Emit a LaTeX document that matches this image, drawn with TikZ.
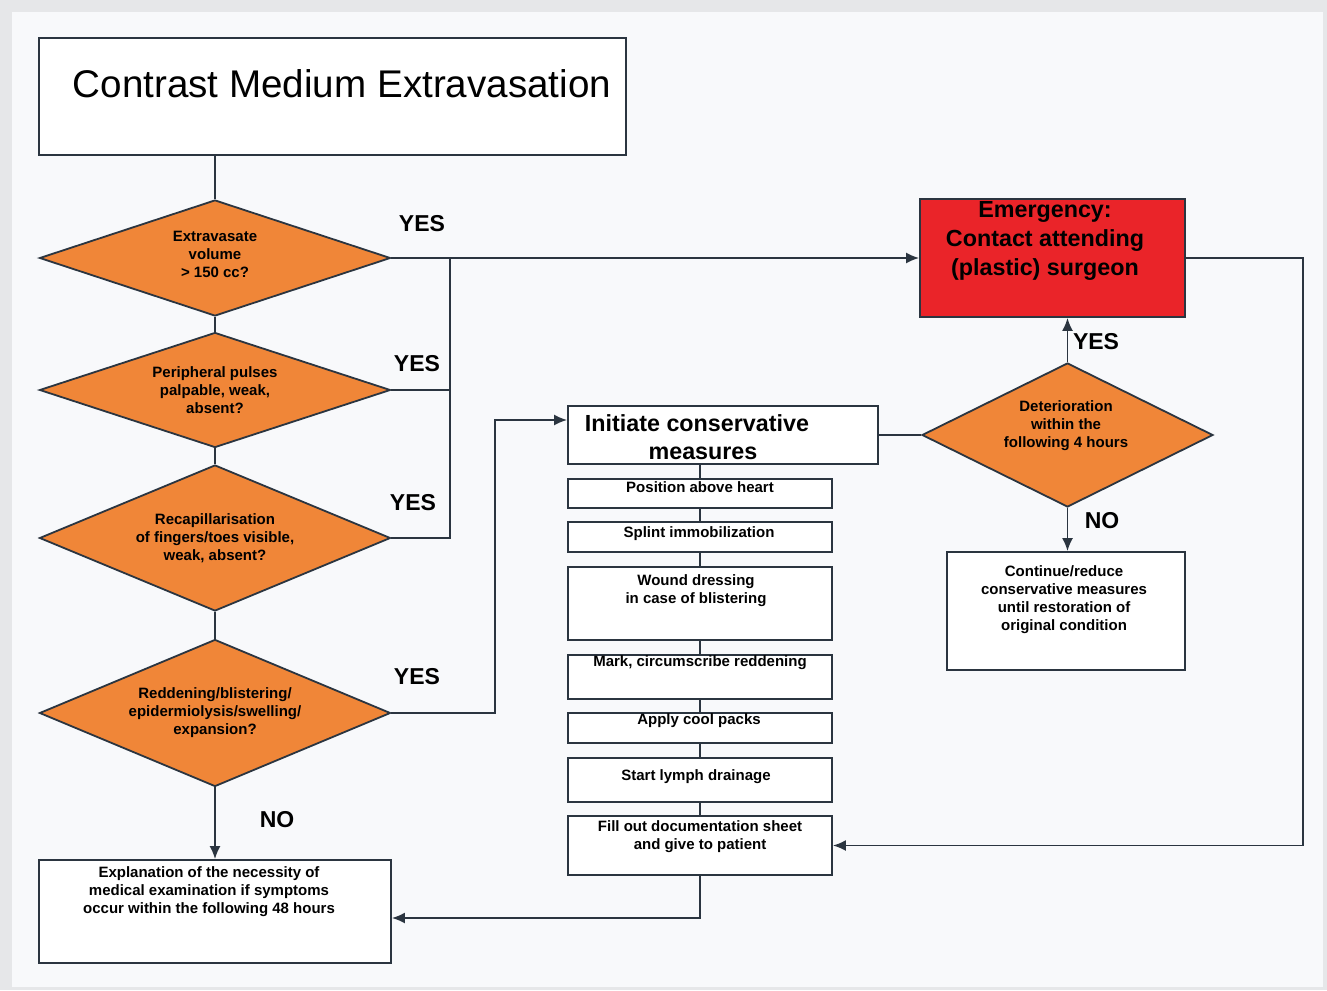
\documentclass[tikz,border=0pt]{standalone}
\usepackage{fontspec}
\setmainfont{Liberation Sans}
\usetikzlibrary{shapes.geometric,arrows.meta}
\definecolor{linec}{HTML}{2B3540}
\definecolor{orangec}{HTML}{F08638}
\definecolor{redc}{HTML}{EA2429}
\definecolor{panelc}{HTML}{F8F9FB}
\definecolor{framec}{HTML}{E6E7E9}
\begin{document}
\begin{tikzpicture}[x=0.5pt,y=-0.5pt,
    box/.style={draw=linec,line width=0.9pt,fill=white,rectangle,inner sep=0pt},
    decision/.style={draw=linec,line width=0.9pt,fill=orangec,diamond,aspect=2.5,inner sep=0pt,
      align=center,font=\bfseries\fontsize{7.5}{9}\selectfont,minimum width=175.5pt},
    txt/.style={inner sep=0pt,align=center,font=\bfseries\fontsize{7.5}{9}\selectfont},
    bigtxt/.style={inner sep=0pt,align=center,font=\bfseries\fontsize{11.65}{14.3}\selectfont},
    answer/.style={inner sep=0pt,font=\bfseries\fontsize{11.5}{13}\selectfont},
    link/.style={draw=linec,line width=0.9pt},
    arr/.style={link,-{Latex[length=6.5pt,width=5.5pt]}}]
    \useasboundingbox (0,0) rectangle (1327,990);
    %% Background
    \fill[framec] (0,0) rectangle (1327,990);
    \fill[panelc] (12,12) rectangle (1323,987);
    %% Title
    \node[box,minimum width=293.5pt,minimum height=58.5pt] (title) at (332.5,96.5) {};
    \node[inner sep=0pt,font=\fontsize{19.3}{23}\selectfont] (titleT) at (342,84) {Contrast Medium Extravasation};
    %% Questions
    \node[decision,minimum height=58pt] (vol) at (215,258) {Extravasate\\volume\\> 150 cc?\\[-5pt]};
    \node[decision,minimum height=57.5pt] (pulse) at (215,390) {Peripheral pulses\\palpable, weak,\\absent?};
    \node[decision,minimum height=73pt] (recap) at (215,538) {Recapillarisation\\of fingers/toes visible,\\weak, absent?};
    \node[decision,minimum height=73.5pt] (redd) at (215,713) {Reddening/blistering/\\epidermiolysis/swelling/\\expansion?};
    \node[decision,aspect=2,minimum width=145.5pt,minimum height=72pt] (deter) at (1067.5,435) {};
    \node[txt] (deterT) at (1066,426) {Deterioration\\within the\\following 4 hours};
    %% Emergency
    \node[box,fill=redc,minimum width=132.5pt,minimum height=59pt] (emerg) at (1052.5,258) {};
    \node[bigtxt] (emergT) at (1045,241) {Emergency:\\Contact attending\\(plastic) surgeon};
    %% Conservative measures
    \node[box,minimum width=155pt,minimum height=29pt] (init) at (723,435) {};
    \node[bigtxt] (initT) at (697,437) {Initiate conservative\\\hspace*{6pt}measures};
    \node[box,minimum width=132pt,minimum height=14.5pt] (pos) at (700,493.5) {};
    \node[txt] (posT) at (700,487) {Position above heart};
    \node[box,minimum width=132pt,minimum height=15pt] (splint) at (700,537) {};
    \node[txt] (splintT) at (699,534) {Splint immobilization};
    \node[box,minimum width=132pt,minimum height=36.5pt] (wound) at (700,603.5) {};
    \node[txt] (woundT) at (696,591) {Wound dressing\\in case of blistering};
    \node[box,minimum width=132pt,minimum height=22pt] (mark) at (700,677) {};
    \node[txt] (markT) at (700,663) {Mark, circumscribe reddening};
    \node[box,minimum width=132pt,minimum height=15pt] (cool) at (700,728) {};
    \node[txt] (coolT) at (699,721) {Apply cool packs};
    \node[box,minimum width=132pt,minimum height=22pt] (lymph) at (700,780) {};
    \node[txt] (lymphT) at (696,777) {Start lymph drainage};
    \node[box,minimum width=132pt,minimum height=29.5pt] (fill) at (700,845.5) {};
    \node[txt] (fillT) at (700,837) {Fill out documentation sheet\\and give to patient};
    %% Outcomes
    \node[box,minimum width=119pt,minimum height=59pt] (cont) at (1066,611) {};
    \node[txt] (contT) at (1064,600) {Continue/reduce\\conservative measures\\until restoration of\\original condition};
    \node[box,minimum width=176pt,minimum height=51.5pt] (expl) at (215,911.5) {};
    \node[txt] (explT) at (209,892) {Explanation of the necessity of\\medical examination if symptoms\\occur within the following 48 hours};
    %% Junctions
    \coordinate (jYes) at (450,258);
    \coordinate (jRed) at (495,420);
    \coordinate (jBack) at (1303,258);
    \coordinate (jDoc) at (700,918);
    %% Connectors
    \path[link] (vol.north) -- (vol.north |- title.south);
    \path[link] (vol.south) -- (pulse.north);
    \path[link] (pulse.south) -- (recap.north);
    \path[link] (recap.south) -- (redd.north);
    \path[arr] (vol.east) -- (emerg.west);
    \path[link] (pulse.east) -- (pulse.east -| jYes);
    \path[link] (recap.east) -| (jYes);
    \path[arr] (redd.east) -| (jRed) -- (init.west |- jRed);
    \path[arr] (redd.south) -- (expl.north);
    \path[link] (init.east) -- (deter.west);
    \path[arr] (deter.north) -- (deter.north |- emerg.south);
    \path[arr] (deter.south) -- (deter.south |- cont.north);
    \path[link] (pos.north) -- (pos.north |- init.south);
    \path[link] (pos.south) -- (splint.north);
    \path[link] (splint.south) -- (wound.north);
    \path[link] (wound.south) -- (mark.north);
    \path[link] (mark.south) -- (cool.north);
    \path[link] (cool.south) -- (lymph.north);
    \path[link] (lymph.south) -- (fill.north);
    \path[arr] (emerg.east) -- (jBack) |- (fill.east);
    \path[arr] (fill.south) -- (jDoc) -- (expl.east |- jDoc);
    %% Answers
    \node[answer] (yes1) at (422,224) {YES};
    \node[answer] (yes2) at (417,364) {YES};
    \node[answer] (yes3) at (413,503) {YES};
    \node[answer] (yes4) at (417,677) {YES};
    \node[answer] (no1) at (277,820) {NO};
    \node[answer] (yes5) at (1096,342) {YES};
    \node[answer] (no2) at (1102,521) {NO};
\end{tikzpicture}
\end{document}
